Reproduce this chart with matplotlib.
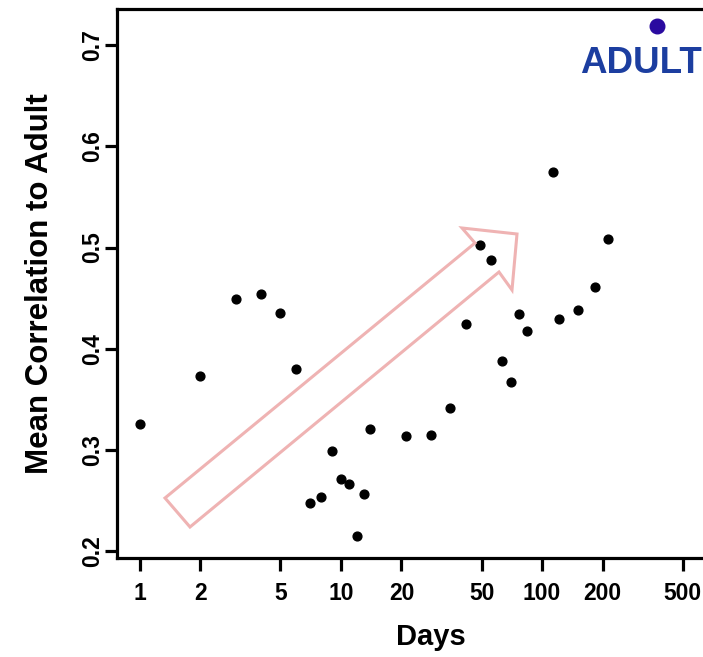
import matplotlib
matplotlib.use("Agg")
import matplotlib.pyplot as plt
from matplotlib.patches import Polygon

plt.rcParams['font.family'] = ['Liberation Sans', 'DejaVu Sans']

# mean correlation to adult, by day
days = [1, 2, 3, 4, 5, 6, 7, 8, 9, 10, 11, 12, 13, 14, 21, 28, 35, 42, 49, 56,
        63, 70, 77, 84, 113, 121, 151, 183, 212]
corr = [0.326, 0.373, 0.449, 0.454, 0.435, 0.380, 0.248, 0.254, 0.299, 0.271,
        0.267, 0.215, 0.257, 0.321, 0.314, 0.315, 0.342, 0.425, 0.503, 0.488,
        0.388, 0.367, 0.434, 0.418, 0.575, 0.429, 0.438, 0.461, 0.508]
adult_day = 372
adult_corr = 0.719

xticks = [1, 2, 5, 10, 20, 50, 100, 200, 500]
yticks = [0.2, 0.3, 0.4, 0.5, 0.6, 0.7]

W, H = 703, 657
right_px = 745
fig = plt.figure(figsize=(W / 100, H / 100), dpi=100)
ax = fig.add_axes([117 / W, 1 - 558 / H, (right_px - 117) / W, (558 - 9) / H])

ax.scatter(days, corr, s=40, color='black', zorder=3)
ax.scatter([adult_day], [adult_corr], s=110, color='#2a0aa0', zorder=3)

ax.set_xscale('log')
ax.set_xlim(0.77, 10 ** ((right_px - 139.3) / 201.3))
ax.set_ylim(0.2 - 6.6 / 1013, 0.7 + 36 / 1013)
ax.set_xticks(xticks)
ax.set_xticklabels([str(t) for t in xticks])
ax.minorticks_off()
ax.set_yticks(yticks)
ax.set_yticklabels([f"{t:.1f}" for t in yticks], rotation=90, va='center')

for s in ax.spines.values():
    s.set_linewidth(2.3)
ax.spines['right'].set_visible(False)
ax.tick_params(axis='both', length=9, width=2.3, labelsize=16.5)
ax.tick_params(axis='x', pad=8)
ax.tick_params(axis='y', pad=0)
for lab in ax.get_xticklabels() + ax.get_yticklabels():
    lab.set_fontweight('bold')

ax.set_xlabel('Days', fontsize=21, fontweight='bold', labelpad=13)
ax.set_ylabel('Mean Correlation to Adult', fontsize=22.5, fontweight='bold',
              labelpad=19)

fig.text(580 / W, 1 - 72.7 / H, 'ADULT', color='#1c3ea0', fontsize=26.5,
         fontweight='bold', ha='left', va='baseline')

# hollow pink arrow overlay (pixel outline)
arrow_px = [(165, 498), (475, 243), (462, 228), (517, 234), (512, 290),
            (499, 272), (190, 527)]
arrow = Polygon([(x / W, 1 - y / H) for x, y in arrow_px], closed=True,
                fill=False, edgecolor='#efb3b3', linewidth=2.2,
                transform=fig.transFigure, zorder=4)
fig.patches.append(arrow)

fig.savefig('out.png', dpi=100)
